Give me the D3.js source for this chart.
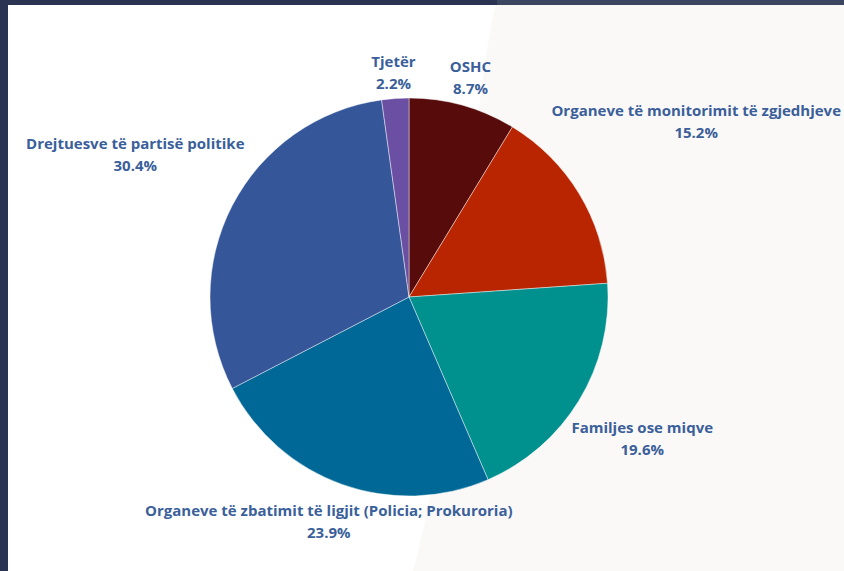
<!DOCTYPE html>
<html>
<head>
<meta charset="utf-8">
<script src="https://cdn.jsdelivr.net/npm/d3@7"></script>
<style>
  html, body { margin: 0; padding: 0; background: #ffffff; }
  svg { display: block; }
  .lbl { font-family: "Open Sans", sans-serif; font-weight: 700; font-size: 15px; fill: #3a5f9a; }
</style>
</head>
<body>
<svg id="chart" width="844" height="571"></svg>
<script>
// data
var categories = ["OSHC", "Organeve të monitorimit të zgjedhjeve", "Familjes ose miqve",
                  "Organeve të zbatimit të ligjit (Policia; Prokuroria)", "Drejtuesve të partisë politike", "Tjetër"];
var shares = [8.7, 15.2, 19.6, 23.9, 30.4, 2.2];
var sliceColors = ["#570b0b", "#b82500", "#00918f", "#006896", "#355799", "#6a4fa3"];

var width = 844, height = 571,
    cx = 409, cy = 297,
    radius = 199,
    lineGap = 22;

var svg = d3.select("#chart");

// background: white panel, pale wedge on the right, navy frame
svg.append("rect").attr("width", width).attr("height", height).attr("fill", "#ffffff");
svg.append("path")
    .attr("d", "M497,0 C470,100 460,400 413,571 L844,571 L844,0 Z")
    .attr("fill", "#faf9f7");
svg.append("rect").attr("x", 0).attr("y", 0).attr("width", 8).attr("height", height).attr("fill", "#2a3452");
svg.append("rect").attr("x", 0).attr("y", 0).attr("width", 497).attr("height", 5).attr("fill", "#2a3452");
svg.append("rect").attr("x", 497).attr("y", 0).attr("width", width - 497).attr("height", 5).attr("fill", "#3b4661");

var data = categories.map(function (c, i) {
  return { name: c, value: shares[i], color: sliceColors[i] };
});

var pie = d3.pie()
    .sort(null)
    .value(function (d) { return d.value; });

var arc = d3.arc()
    .innerRadius(0)
    .outerRadius(radius);

var g = svg.append("g")
    .attr("transform", "translate(" + cx + "," + cy + ")");

var arcs = pie(data);

g.selectAll(".slice")
    .data(arcs)
  .enter().append("path")
    .attr("class", "slice")
    .attr("d", arc)
    .attr("fill", function (d) { return d.data.color; })
    .attr("stroke", "rgba(255,255,255,0.55)")
    .attr("stroke-width", 0.8);

// labels: two lines, box pushed just clear of the pie along the middle angle
var labels = g.selectAll(".lbl")
    .data(arcs)
  .enter().append("text")
    .attr("class", "lbl")
    .attr("text-anchor", "middle");

labels.append("tspan")
    .attr("x", 0).attr("dy", 0)
    .text(function (d) { return d.data.name; });
labels.append("tspan")
    .attr("x", 0).attr("dy", lineGap)
    .text(function (d) { return d.data.value.toFixed(1) + "%"; });

labels.each(function (d) {
  var w = this.getBBox().width, h = 44;
  var a = (d.startAngle + d.endAngle) / 2;
  var ux = Math.sin(a), uy = -Math.cos(a);
  var dist = radius + 2 + Math.abs(ux) * w / 2 + Math.abs(uy) * h / 2;
  // keep the box inside the frame at the bottom
  var maxY = height - 49 - cy;
  if (uy * dist > maxY) dist = maxY / uy;
  var x = ux * dist, y = uy * dist;
  d3.select(this).attr("transform", "translate(" + x + "," + (y - 6) + ")");
});
</script>
</body>
</html>
